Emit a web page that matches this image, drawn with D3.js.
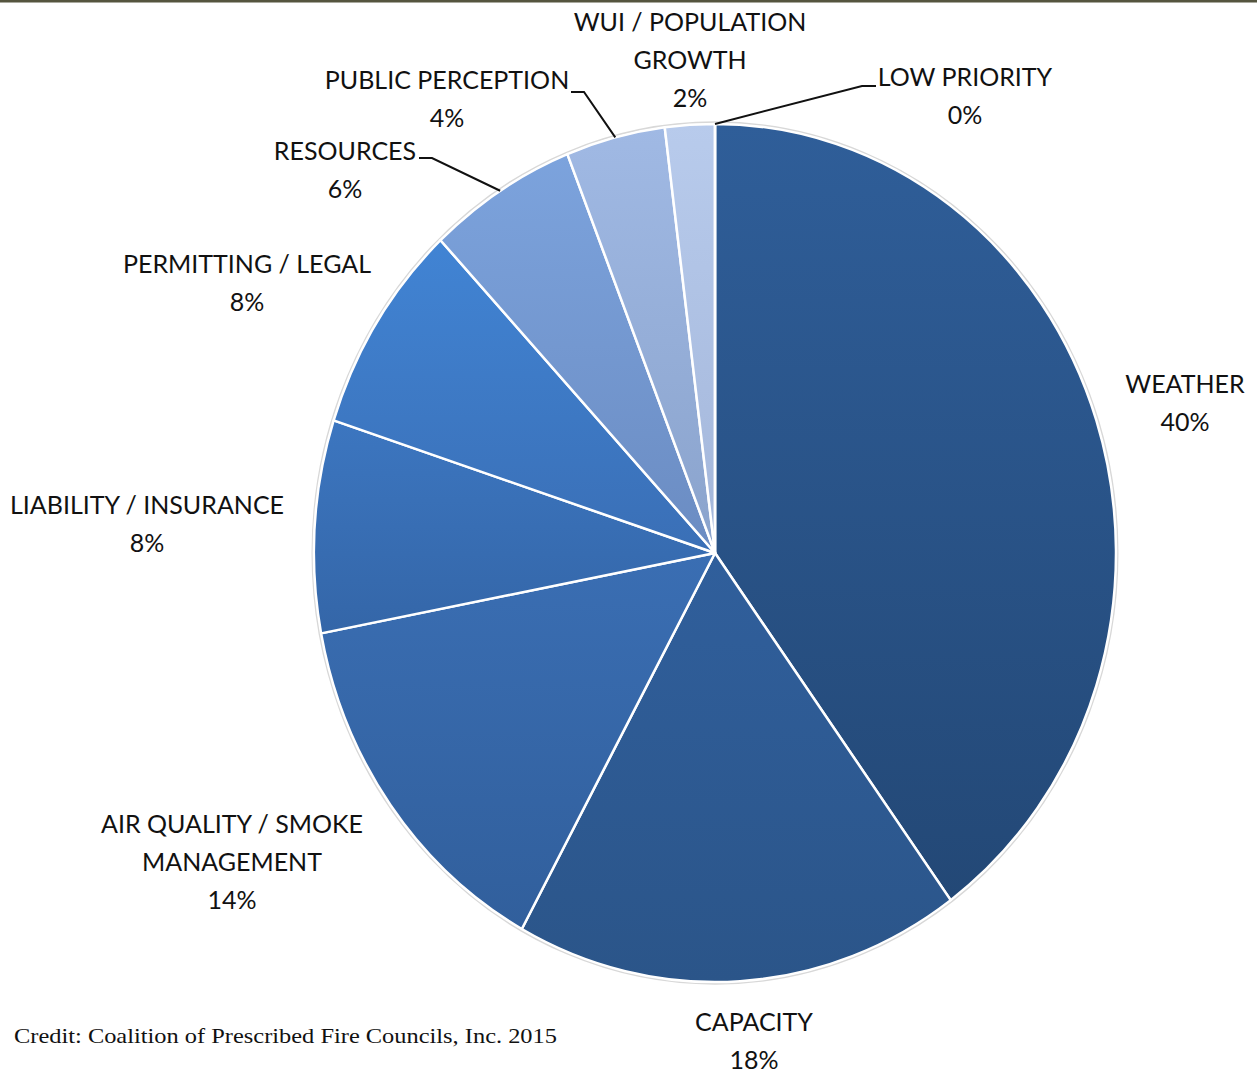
<!DOCTYPE html>
<html>
<head>
<meta charset="utf-8">
<script src="https://cdn.jsdelivr.net/npm/d3@7"></script>
<style>
  body { margin: 0; background: #fff; }
  svg { display: block; }
  .lbl { font-family: Lato, "Open Sans", sans-serif; font-size: 25px; fill: #111; }
</style>
</head>
<body>
<svg width="1257" height="1072"></svg>
<script>
// data
const categories = ['WEATHER', 'CAPACITY', 'AIR QUALITY / SMOKE MANAGEMENT', 'LIABILITY / INSURANCE',
  'PERMITTING / LEGAL', 'RESOURCES', 'PUBLIC PERCEPTION', 'WUI / POPULATION GROWTH', 'LOW PRIORITY'];
const values = [40, 18, 14, 8, 8, 6, 4, 2, 0];

// label text lines and placement (layout only)
const labelLines = [
  ['WEATHER'], ['CAPACITY'], ['AIR QUALITY / SMOKE', 'MANAGEMENT'], ['LIABILITY / INSURANCE'],
  ['PERMITTING / LEGAL'], ['RESOURCES'], ['PUBLIC PERCEPTION'], ['WUI / POPULATION', 'GROWTH'], ['LOW PRIORITY']
];
const labelPos = [[1185, 393], [754, 1031], [232, 833], [147, 514], [247, 273], [345, 160], [447, 89], [690, 31], [965, 86]];
// leader lines: [text end x, elbow x, text y] (null = no leader)
const leaders = [null, null, null, null, null, [419, 432, 158], [571, 584, 92], null, [876, 862, 86]];

const topColors = ['#2f5e99', '#305f9c', '#3a6eb3', '#3c76c0', '#4184d4', '#7ca3dd', '#a0b9e4', '#b8cbec', '#c4d4f0'];
const botColors = ['#234876', '#2b5589', '#315f9c', '#3466a8', '#3a6fb6', '#6b8cc2', '#8aa3cc', '#a3b6da', '#b0c0e0'];

var svg = d3.select('svg');
var cx = 715, cy = 553, r = 401, sy = 1.07;

svg.append('rect').attr('x', 0).attr('y', 0).attr('width', 1257).attr('height', 2.5).attr('fill', '#55553f');

var defs = svg.append('defs');
topColors.forEach((c, i) => {
  var g = defs.append('linearGradient').attr('id', 'g' + i)
    .attr('x1', 0).attr('y1', 0).attr('x2', 0).attr('y2', 1);
  g.append('stop').attr('offset', '0%').attr('stop-color', c);
  g.append('stop').attr('offset', '100%').attr('stop-color', botColors[i]);
});

var pie = d3.pie().sort(null).value(d => d);
var arcs = pie(values);
var arc = d3.arc().innerRadius(0).outerRadius(r);

var pieG = svg.append('g').attr('transform', 'translate(' + cx + ',' + cy + ') scale(1,' + sy + ')');

pieG.append('ellipse').attr('rx', r + 1.5).attr('ry', r + 1.5)
  .attr('fill', 'none').attr('stroke', '#d8d8d8').attr('stroke-width', 2)
  .attr('vector-effect', 'non-scaling-stroke');

pieG.selectAll('path')
  .data(arcs)
  .enter()
  .append('path')
  .attr('d', arc)
  .attr('fill', (d, i) => 'url(#g' + i + ')')
  .attr('stroke', '#fff')
  .attr('stroke-width', 2.5)
  .attr('stroke-linejoin', 'round')
  .attr('vector-effect', 'non-scaling-stroke');

// labels
arcs.forEach((d, i) => {
  var lines = labelLines[i].concat([values[i] + '%']);
  var t = svg.append('text').attr('class', 'lbl').attr('text-anchor', 'middle');
  lines.forEach((s, k) => {
    t.append('tspan').attr('x', labelPos[i][0]).attr('y', labelPos[i][1] + k * 38).text(s);
  });
  if (leaders[i]) {
    var mid = (d.startAngle + d.endAngle) / 2;
    var ex = cx + r * Math.sin(mid), ey = cy - r * sy * Math.cos(mid);
    var L = leaders[i];
    svg.append('path')
      .attr('d', 'M' + L[0] + ',' + L[2] + 'L' + L[1] + ',' + L[2] + 'L' + ex + ',' + ey)
      .attr('fill', 'none').attr('stroke', '#111').attr('stroke-width', 2);
  }
});

svg.append('text')
  .attr('x', 14).attr('y', 1043)
  .attr('font-family', '"Liberation Serif", serif')
  .attr('font-size', 22)
  .attr('fill', '#111')
  .attr('textLength', 543)
  .attr('lengthAdjust', 'spacingAndGlyphs')
  .text('Credit:  Coalition of Prescribed Fire Councils, Inc. 2015');
</script>
</body>
</html>
